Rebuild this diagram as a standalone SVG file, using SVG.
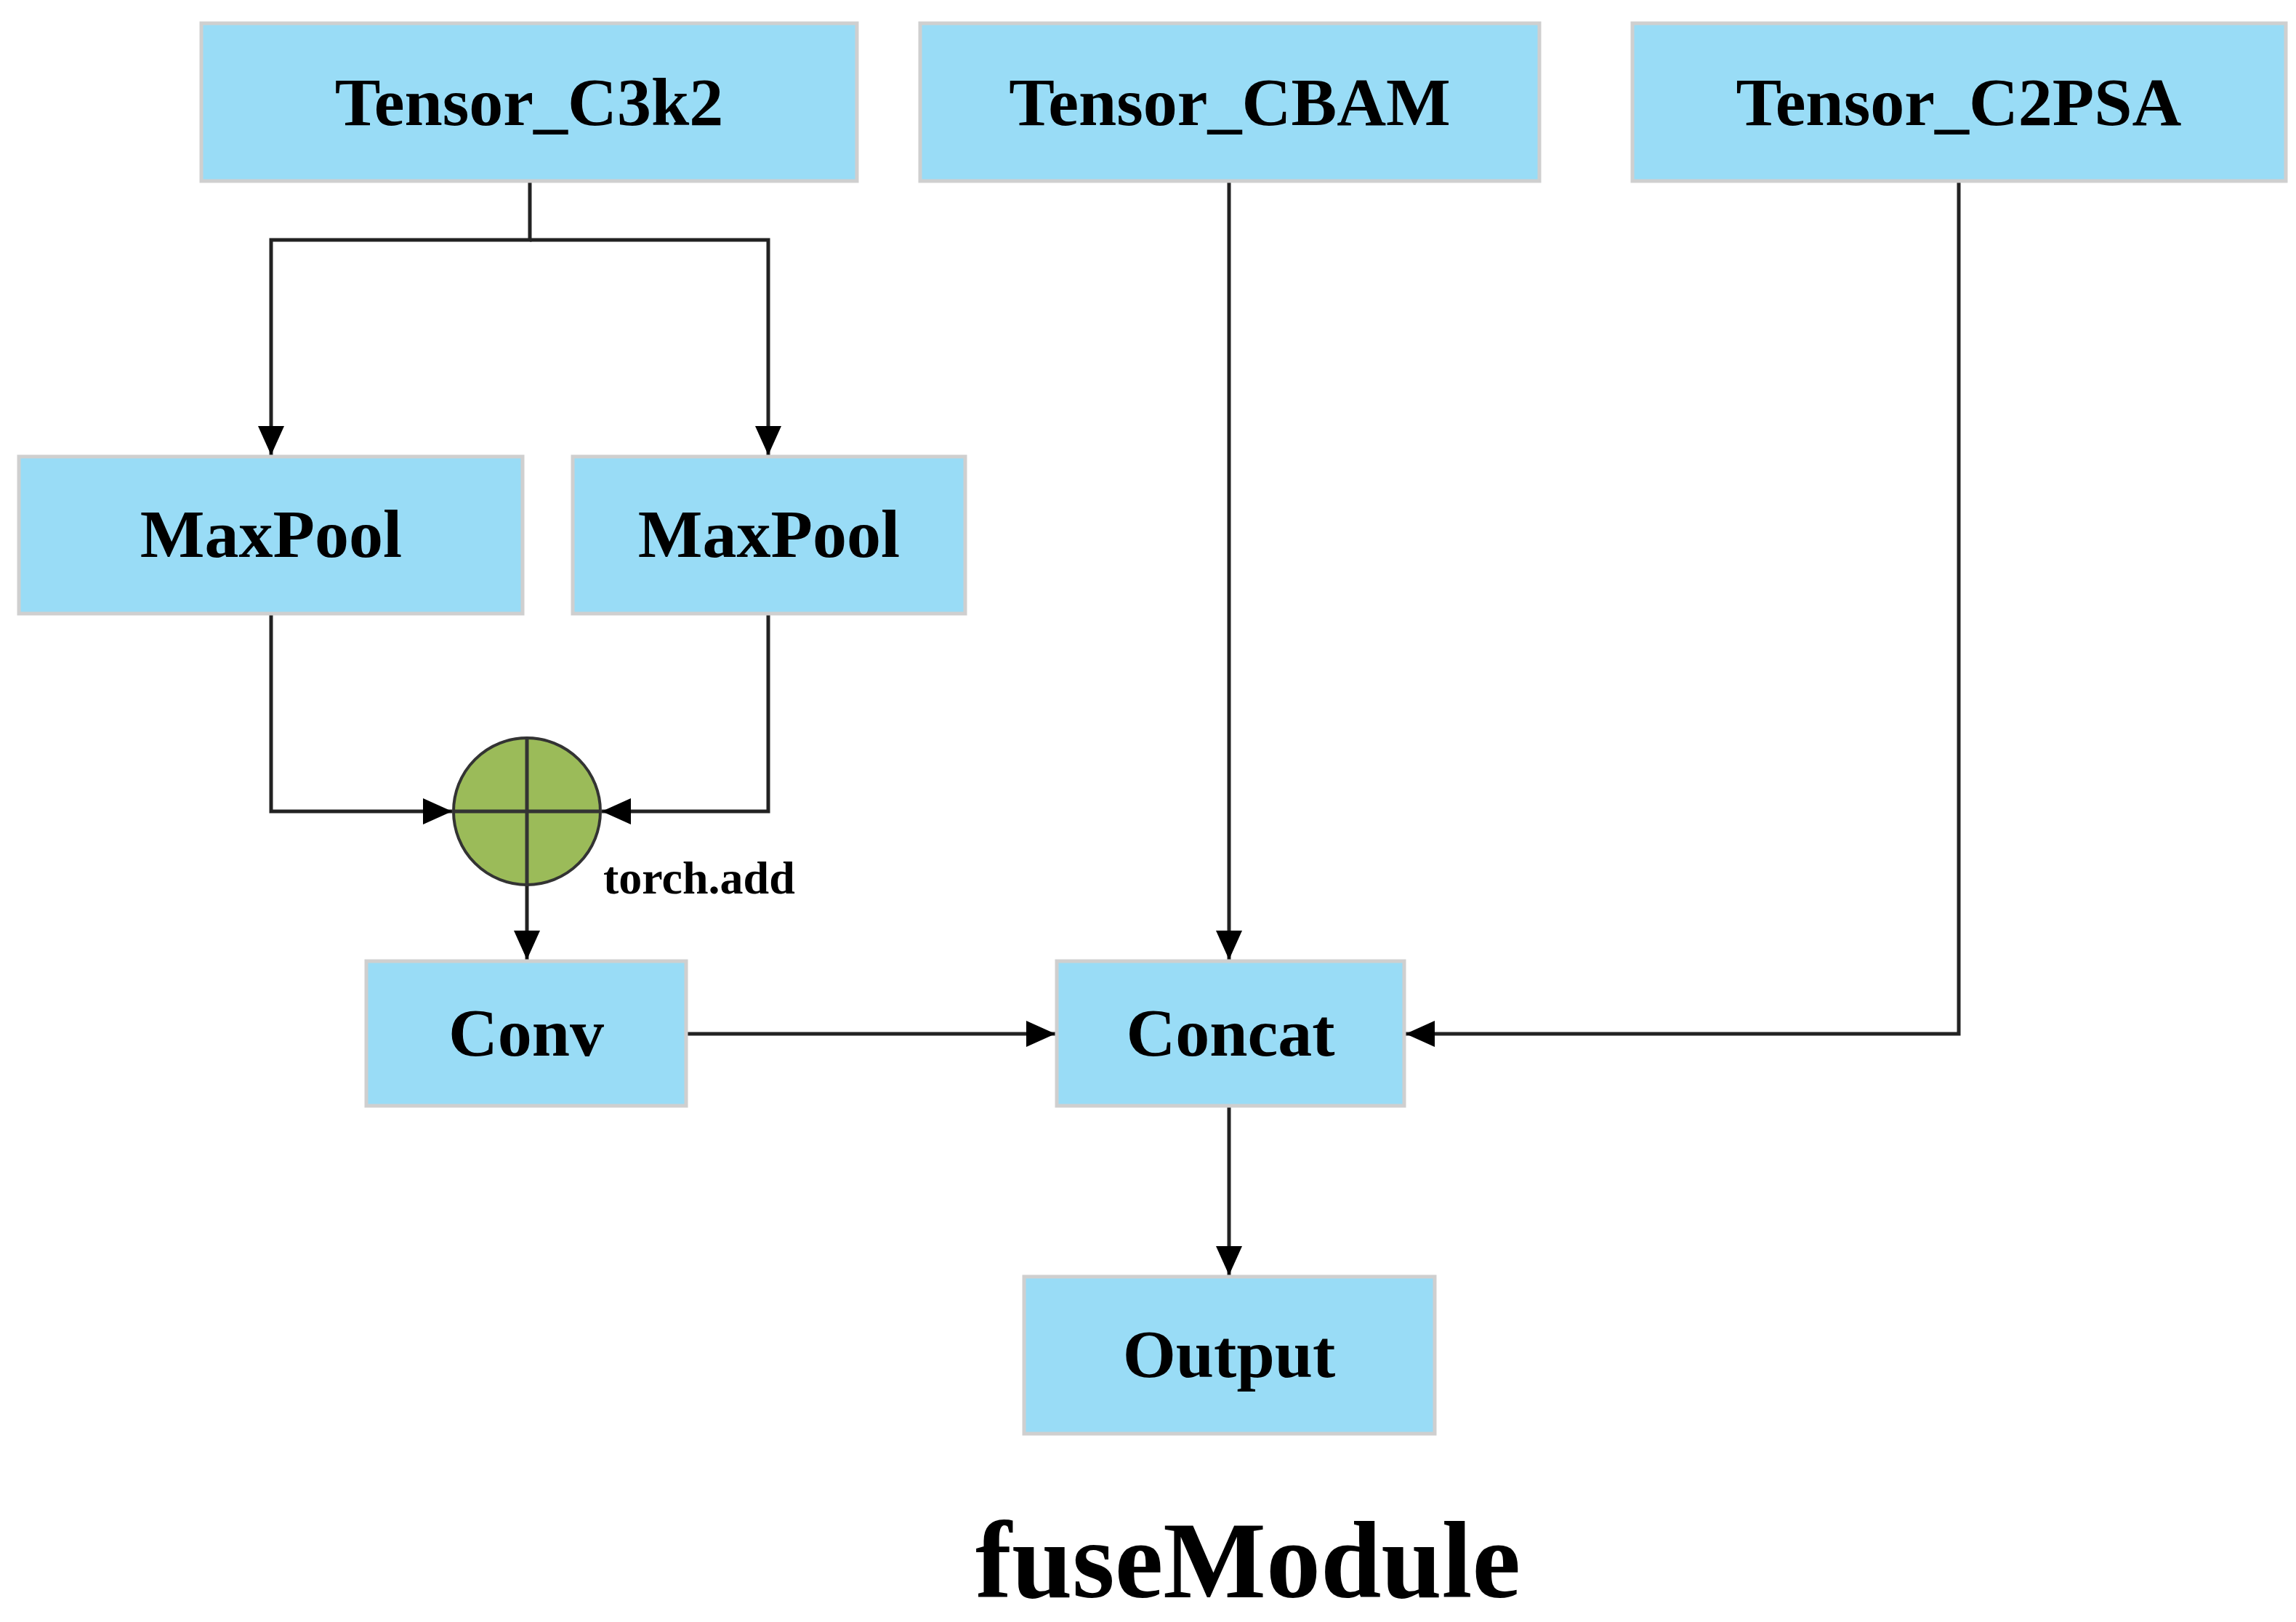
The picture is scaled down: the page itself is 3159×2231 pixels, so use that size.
<svg xmlns="http://www.w3.org/2000/svg" width="3159" height="2231" viewBox="0 0 3159 2231">
<style>
.box{fill:#99dcf6;stroke:#cfcfcf;stroke-width:5}
.lbl{font-family:"Liberation Serif",serif;font-weight:bold;font-size:94px;fill:#000;text-anchor:middle}
.ln{fill:none;stroke:#222;stroke-width:5}
</style>
<defs>
<marker id="ah" markerUnits="userSpaceOnUse" markerWidth="40" markerHeight="40" viewBox="0 0 40 40" refX="40" refY="20" orient="auto">
<path d="M0,2 L40,20 L0,38 Z" fill="#000"/>
</marker>
</defs>
<rect width="3159" height="2231" fill="#fff"/>
<g id="connectors">
<path class="ln" d="M729,249 V330 H373 V626" marker-end="url(#ah)"/>
<path class="ln" d="M729,330 H1057 V626" marker-end="url(#ah)"/>
<path class="ln" d="M373,844 V1116 H622" marker-end="url(#ah)"/>
<path class="ln" d="M1057,844 V1116 H828" marker-end="url(#ah)"/>
<path class="ln" d="M725,1218 V1320" marker-end="url(#ah)"/>
<path class="ln" d="M944,1422 H1452" marker-end="url(#ah)"/>
<path class="ln" d="M1691,249 V1320" marker-end="url(#ah)"/>
<path class="ln" d="M2695,249 V1422 H1934" marker-end="url(#ah)"/>
<path class="ln" d="M1691,1521 V1754" marker-end="url(#ah)"/>
</g>
<g id="tensor_c3k2"><rect class="box" x="277" y="32" width="902" height="217"/><text class="lbl" x="728" y="172">Tensor_C3k2</text></g>
<g id="tensor_cbam"><rect class="box" x="1266" y="32" width="852" height="217"/><text class="lbl" x="1692" y="172">Tensor_CBAM</text></g>
<g id="tensor_c2psa"><rect class="box" x="2246" y="32" width="899" height="217"/><text class="lbl" x="2695" y="172">Tensor_C2PSA</text></g>
<g id="maxpool1"><rect class="box" x="26" y="628" width="693" height="216"/><text class="lbl" x="373" y="766">MaxPool</text></g>
<g id="maxpool2"><rect class="box" x="788" y="628" width="540" height="216"/><text class="lbl" x="1058" y="766">MaxPool</text></g>
<g id="add">
<circle cx="725" cy="1116" r="101" fill="#9bbb59" stroke="#333" stroke-width="4"/>
<path d="M725,1015 V1217 M624,1116 H826" stroke="#333" stroke-width="5"/>
<text x="830" y="1229" style="font-family:'Liberation Serif',serif;font-weight:bold;font-size:64px">torch.add</text>
</g>
<g id="conv"><rect class="box" x="504" y="1322" width="440" height="199"/><text class="lbl" x="724" y="1452">Conv</text></g>
<g id="concat"><rect class="box" x="1454" y="1322" width="478" height="199"/><text class="lbl" x="1693" y="1452">Concat</text></g>
<g id="output"><rect class="box" x="1409" y="1756" width="565" height="216"/><text class="lbl" x="1691" y="1894">Output</text></g>
<text x="1717" y="2197" style="font-family:'Liberation Serif',serif;font-weight:bold;font-size:150px;text-anchor:middle">fuseModule</text>
</svg>
